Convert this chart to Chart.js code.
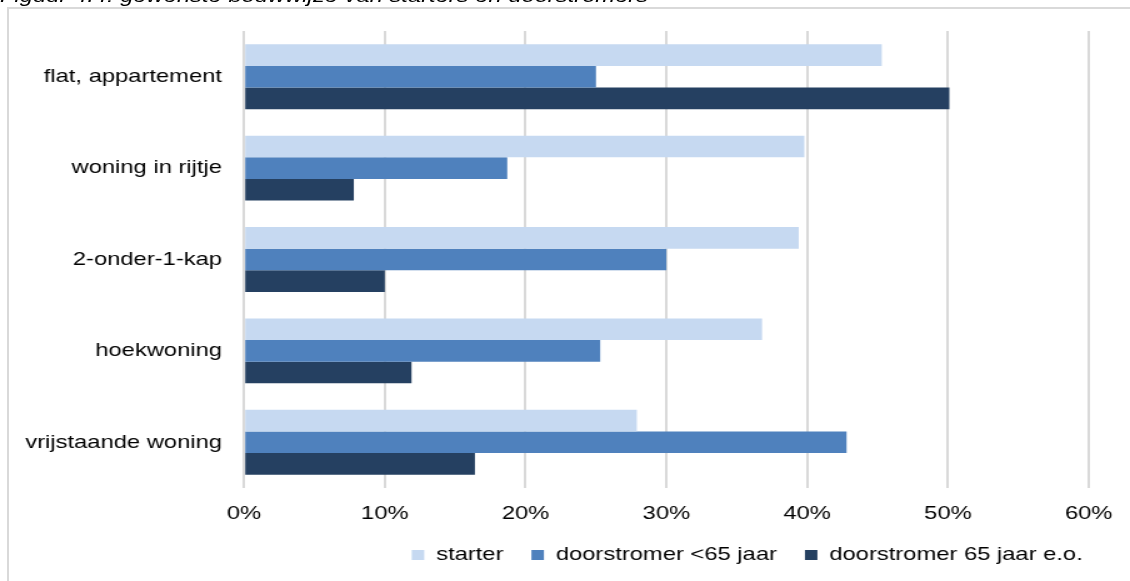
<!DOCTYPE html>
<html>
<head>
<meta charset="utf-8">
<script src="https://cdn.jsdelivr.net/npm/chart.js@4/dist/chart.umd.min.js"></script>
<style>
  body { margin: 0; width: 1130px; height: 581px; overflow: hidden; background: #fff; position: relative; font-family: "Liberation Sans", Arial, sans-serif; }
  #frame { position: absolute; left: 7px; top: 7px; width: 1200px; height: 700px; border: 2px solid #d9d9d9; }
  /* the figure is laid out narrow and stretched sideways */
  #wrap { position: absolute; left: 0; top: 0; width: 904px; height: 581px; transform: scaleX(1.25); transform-origin: 0 0; }
  #title { position: absolute; left: 0; top: -14px; font-size: 19px; line-height: 19px; font-style: italic; white-space: nowrap; color: #000; }
  #chartBox { position: absolute; left: 0; top: 0; width: 904px; height: 581px; }
</style>
</head>
<body>
<div id="frame"></div>
<div id="wrap">
  <div id="title">Figuur 4.4: gewenste bouwwijze van starters en doorstromers</div>
  <div id="chartBox"><canvas id="bouwwijze"></canvas></div>
</div>
<script>
const categories = ['flat, appartement', 'woning in rijtje', '2-onder-1-kap', 'hoekwoning', 'vrijstaande woning'];
const seriesNames = ['starter', 'doorstromer <65 jaar', 'doorstromer 65 jaar e.o.'];
const starter = [45.3, 39.8, 39.4, 36.8, 27.9];
const doorstromerJong = [25.0, 18.7, 30.0, 25.3, 42.8];
const doorstromerOud = [50.1, 7.8, 10.0, 11.9, 16.4];
const tickValues = [0, 10, 20, 30, 40, 50, 60];
const seriesColors = ['#c6d9f1', '#4f81bd', '#254061'];

const font = { family: '"Liberation Sans", Arial, sans-serif', size: 19 };

const datasets = [starter, doorstromerJong, doorstromerOud].map((vals, i) => ({
  label: seriesNames[i],
  data: vals,
  backgroundColor: seriesColors[i],
  borderWidth: 0,
  categoryPercentage: 0.71,
  barPercentage: 1
}));

new Chart(document.getElementById('bouwwijze'), {
  type: 'bar',
  data: { labels: categories, datasets: datasets },
  options: {
    indexAxis: 'y',
    responsive: true,
    maintainAspectRatio: false,
    animation: false,
    layout: { padding: { top: 31, right: 15.4, bottom: 6.6, left: 0 } },
    scales: {
      x: {
        min: 0,
        max: 60,
        afterBuildTicks: s => { s.ticks = tickValues.map(v => ({ value: v })); },
        afterFit: s => { s.height = 35; },
        ticks: { callback: v => v + '%', padding: 14, color: '#000', font: font },
        grid: { color: '#d9d9d9', lineWidth: 2, drawTicks: false },
        border: { display: false }
      },
      y: {
        afterFit: s => { s.width = 195.2; },
        ticks: { padding: 17.6, color: '#000', font: font },
        grid: { display: false, drawTicks: false },
        border: { display: false }
      }
    },
    plugins: {
      legend: {
        position: 'bottom',
        align: 'end',
        labels: { boxWidth: 10, boxHeight: 10, padding: 22.4, color: '#000', font: font }
      },
      tooltip: { enabled: false }
    }
  }
});
</script>
</body>
</html>
